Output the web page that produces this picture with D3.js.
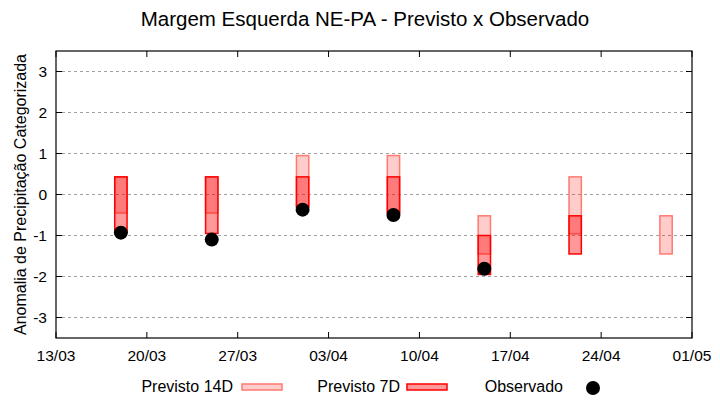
<!DOCTYPE html>
<html>
<head>
<meta charset="utf-8">
<script src="https://cdn.jsdelivr.net/npm/d3@7"></script>
<style>
body { margin: 0; background: #fff; }
text { font-family: "Liberation Sans", Arial, sans-serif; fill: #000; }
</style>
</head>
<body>
<svg width="720" height="400"></svg>
<script>
// semanas previstas (centro da barra)
var dates = ["2024-03-18", "2024-03-25", "2024-04-01", "2024-04-08", "2024-04-15", "2024-04-22", "2024-04-29"];
var p14Top = [0.43, 0.43, 0.95, 0.95, -0.52, 0.43, -0.52];
var p14Bot = [-0.45, -0.45, -0.30, -0.45, -1.45, -0.96, -1.45];
var p7Top = [0.43, 0.43, 0.43, 0.43, -1.00, -0.52, null];
var p7Bot = [-0.93, -0.95, -0.30, -0.45, -1.95, -1.45, null];
var observado = [-0.93, -1.10, -0.37, -0.50, -1.81, null, null];
var xTicks = ["2024-03-13", "2024-03-20", "2024-03-27", "2024-04-03", "2024-04-10", "2024-04-17", "2024-04-24", "2024-05-01"];
var yTicks = [-3, -2, -1, 0, 1, 2, 3];

var parse = d3.timeParse("%Y-%m-%d");
var fmt = d3.timeFormat("%d/%m");

var mLeft = 56, mRight = 692, mTop = 51, mBottom = 338;
var svg = d3.select("svg");

var x = d3.scaleTime()
	.domain([parse(xTicks[0]), parse(xTicks[xTicks.length-1])])
	.range([mLeft, mRight]);
var y = d3.scaleLinear().domain([-3.5, 3.5]).range([mBottom, mTop]);
var day = x(parse("2024-03-14")) - x(parse("2024-03-13"));
var bw = day * 0.95;

// grade
svg.selectAll(".grid").data(yTicks).enter().append("line")
	.attr("x1", mLeft).attr("x2", mRight)
	.attr("y1", function(d){ return y(d); }).attr("y2", function(d){ return y(d); })
	.style("stroke", "#a0a0a0").style("stroke-dasharray", "3,3");

var rows = dates.map(function(d, i){
	return {t: parse(d), a: p14Top[i], b: p14Bot[i], c: p7Top[i], e: p7Bot[i], o: observado[i]};
});

// previsto 14D
svg.selectAll(".b14").data(rows.filter(function(d){ return d.a != null; })).enter().append("rect")
	.attr("x", function(d){ return x(d.t) - bw/2; })
	.attr("width", bw)
	.attr("y", function(d){ return y(d.a); })
	.attr("height", function(d){ return y(d.b) - y(d.a); })
	.style("fill", "rgba(255,0,0,0.2)").style("stroke", "#ff7a70").style("stroke-width", 1.5);

// previsto 7D
svg.selectAll(".b7").data(rows.filter(function(d){ return d.c != null; })).enter().append("rect")
	.attr("x", function(d){ return x(d.t) - bw/2; })
	.attr("width", bw)
	.attr("y", function(d){ return y(d.c); })
	.attr("height", function(d){ return y(d.e) - y(d.c); })
	.style("fill", "rgba(255,0,0,0.4)").style("stroke", "#ff0000").style("stroke-width", 1.5);

// observado
svg.selectAll(".obs").data(rows.filter(function(d){ return d.o != null; })).enter().append("circle")
	.attr("cx", function(d){ return x(d.t); })
	.attr("cy", function(d){ return y(d.o); })
	.attr("r", 7)
	.style("fill", "#000");

// moldura
svg.append("rect").attr("x", mLeft).attr("y", mTop)
	.attr("width", mRight-mLeft).attr("height", mBottom-mTop)
	.style("fill", "none").style("stroke", "#000").style("stroke-width", 1.2);

var xt = xTicks.map(parse);
var tl = 6;
svg.selectAll(".xtb").data(xt).enter().append("line")
	.attr("x1", function(d){ return x(d); }).attr("x2", function(d){ return x(d); })
	.attr("y1", mBottom).attr("y2", mBottom - tl).style("stroke", "#000");
svg.selectAll(".xtt").data(xt).enter().append("line")
	.attr("x1", function(d){ return x(d); }).attr("x2", function(d){ return x(d); })
	.attr("y1", mTop).attr("y2", mTop + tl).style("stroke", "#000");
svg.selectAll(".ytl").data(yTicks).enter().append("line")
	.attr("x1", mLeft).attr("x2", mLeft + tl)
	.attr("y1", function(d){ return y(d); }).attr("y2", function(d){ return y(d); }).style("stroke", "#000");
svg.selectAll(".ytr").data(yTicks).enter().append("line")
	.attr("x1", mRight).attr("x2", mRight - tl)
	.attr("y1", function(d){ return y(d); }).attr("y2", function(d){ return y(d); }).style("stroke", "#000");

svg.selectAll(".xl").data(xt).enter().append("text")
	.attr("x", function(d){ return x(d); }).attr("y", mBottom + 23)
	.attr("text-anchor", "middle").style("font-size", "15.5px")
	.text(function(d){ return fmt(d); });
svg.selectAll(".yl").data(yTicks).enter().append("text")
	.attr("x", mLeft - 9).attr("y", function(d){ return y(d) + 5; })
	.attr("text-anchor", "end").style("font-size", "15.5px")
	.text(function(d){ return d; });

svg.append("text").attr("x", 365).attr("y", 26)
	.attr("text-anchor", "middle").style("font-size", "20.5px")
	.text("Margem Esquerda NE-PA - Previsto x Observado");

svg.append("text")
	.attr("transform", "translate(26," + ((mTop+mBottom)/2) + ") rotate(-90)")
	.attr("text-anchor", "middle").style("font-size", "16px")
	.text("Anomalia de Precipitação Categorizada");

// legenda
var ly = 387;
svg.append("text").attr("x", 233).attr("y", ly + 5).attr("text-anchor", "end").style("font-size", "16px").text("Previsto 14D");
svg.append("rect").attr("x", 242).attr("y", ly - 3).attr("width", 40).attr("height", 6)
	.style("fill", "rgba(255,0,0,0.2)").style("stroke", "#ff7a70").style("stroke-width", 1.5);
svg.append("text").attr("x", 400).attr("y", ly + 5).attr("text-anchor", "end").style("font-size", "16px").text("Previsto 7D");
svg.append("rect").attr("x", 407).attr("y", ly - 3).attr("width", 40).attr("height", 6)
	.style("fill", "rgba(255,0,0,0.4)").style("stroke", "#ff0000").style("stroke-width", 1.5);
svg.append("text").attr("x", 563).attr("y", ly + 5).attr("text-anchor", "end").style("font-size", "16px").text("Observado");
svg.append("circle").attr("cx", 593).attr("cy", ly + 1).attr("r", 7).style("fill", "#000");
</script>
</body>
</html>
